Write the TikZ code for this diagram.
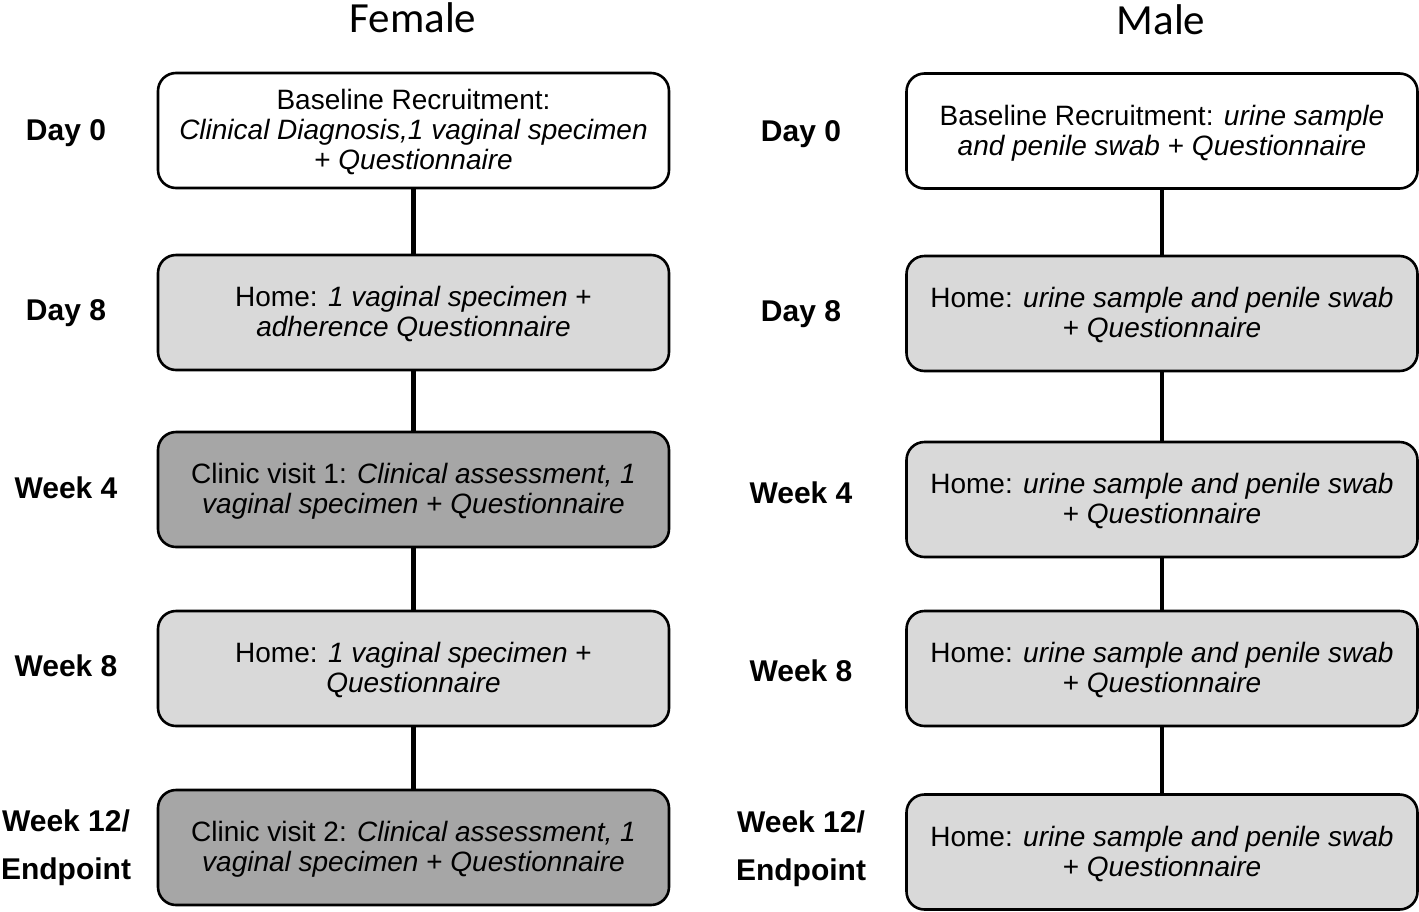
\documentclass[tikz,border=0pt]{standalone}
\usepackage{fontspec}
\setmainfont{Liberation Sans}
\newfontfamily\titlefont{Carlito}
\definecolor{lightbox}{HTML}{D9D9D9}
\definecolor{darkbox}{HTML}{A6A6A6}
\newcommand\topstrut{\rule{0pt}{24pt}}
\begin{document}
\begin{tikzpicture}[x=1pt,y=-1pt,
  stagebox/.style={draw=black, line width=2.6pt, rounded corners=18pt,
    minimum width=511pt, minimum height=115pt, align=center, inner sep=0pt,
    font=\fontsize{28}{30}\selectfont},
  whitebox/.style={stagebox, fill=white},
  greybox/.style={stagebox, fill=lightbox},
  clinicbox/.style={stagebox, fill=darkbox},
  timelabel/.style={align=center, inner sep=0pt, font=\fontsize{30}{48}\selectfont\bfseries},
  headlabel/.style={inner sep=0pt, font=\fontsize{43}{50}\selectfont\titlefont},
  link/.style={line width=4.3pt}]
\useasboundingbox (0,0) rectangle (1419,911);

% titles
\node[headlabel] (tf) at (413,18) {Female};
\node[headlabel] (tm) at (1161,20) {Male};

% female column
\node[whitebox] (f1) at (413.5,130.5) {\topstrut Baseline Recruitment:\\\textit{Clinical Diagnosis,1 vaginal specimen}\\+ \textit{Questionnaire}};
\node[greybox] (f2) at (413.5,312.5) {\topstrut Home: \textit{1 vaginal specimen} +\\\textit{adherence Questionnaire}};
\node[clinicbox] (f3) at (413.5,489.5) {\topstrut Clinic visit 1: \textit{Clinical assessment, 1}\\\textit{vaginal specimen} + \textit{Questionnaire}};
\node[greybox] (f4) at (413.5,668.5) {\topstrut Home: \textit{1 vaginal specimen} +\\\textit{Questionnaire}};
\node[clinicbox] (f5) at (413.5,847.5) {\topstrut Clinic visit 2: \textit{Clinical assessment, 1}\\\textit{vaginal specimen} + \textit{Questionnaire}};

% male column
\node[whitebox] (m1) at (1162,131) {\topstrut Baseline Recruitment: \textit{urine sample}\\\textit{and penile swab} + \textit{Questionnaire}};
\node[greybox] (m2) at (1162,313.5) {\topstrut Home: \textit{urine sample and penile swab}\\+ \textit{Questionnaire}};
\node[greybox] (m3) at (1162,499.5) {\topstrut Home: \textit{urine sample and penile swab}\\+ \textit{Questionnaire}};
\node[greybox] (m4) at (1162,668.5) {\topstrut Home: \textit{urine sample and penile swab}\\+ \textit{Questionnaire}};
\node[greybox] (m5) at (1162,852) {\topstrut Home: \textit{urine sample and penile swab}\\+ \textit{Questionnaire}};

% female time labels
\node[timelabel] (lf1) at (66,133) {Day 0};
\node[timelabel] (lf2) at (66,313) {Day 8};
\node[timelabel] (lf3) at (66,488) {Week 4};
\node[timelabel] (lf4) at (66,666) {Week 8};
\node[timelabel] (lf5) at (66,848) {Week 12/\\Endpoint};

% male time labels
\node[timelabel] (lm1) at (801,134) {Day 0};
\node[timelabel] (lm2) at (801,314) {Day 8};
\node[timelabel] (lm3) at (801,493) {Week 4};
\node[timelabel] (lm4) at (801,671) {Week 8};
\node[timelabel] (lm5) at (801,849) {Week 12/\\Endpoint};

% connectors
\foreach \a/\b in {f1/f2,f2/f3,f3/f4,f4/f5,m1/m2,m2/m3,m3/m4,m4/m5}{
  \draw[link] (\a.south) -- (\b.north);
}
\end{tikzpicture}
\end{document}
